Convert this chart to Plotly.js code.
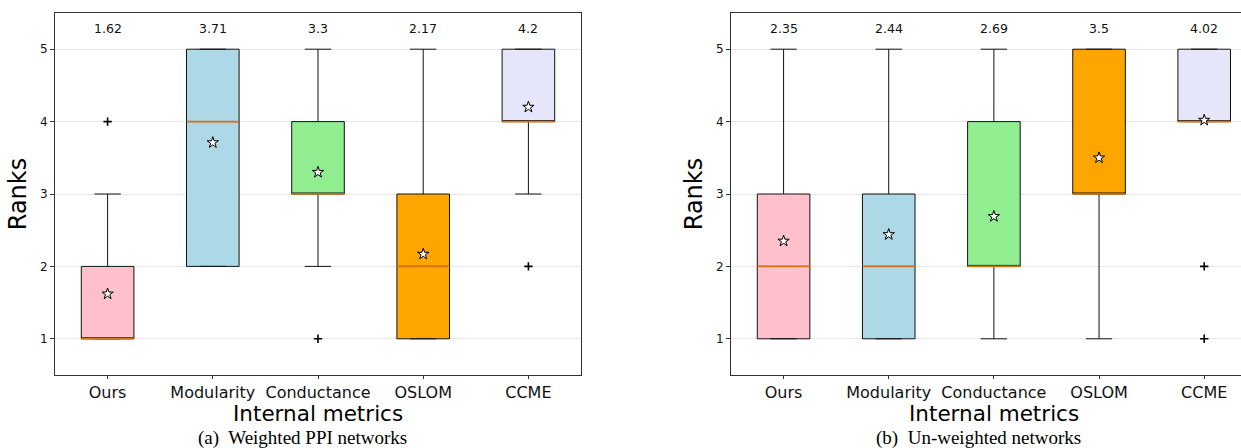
<!DOCTYPE html>
<html>
<head>
<meta charset="utf-8">
<script src="https://cdn.plot.ly/plotly-3.0.1.min.js"></script>
<style>html,body{margin:0;padding:0;background:#fff;}#chart{width:1241px;height:448px;}</style>
</head>
<body>
<div id="chart"></div>
<script>
// ---- Data ----
const categories = ['Ours', 'Modularity', 'Conductance', 'OSLOM', 'CCME'];

// (a) Weighted PPI networks
const wQ1     = [1, 2, 3, 1, 4];
const wMedian = [1, 4, 3, 2, 4];
const wQ3     = [2, 5, 4, 3, 5];
const wLower  = [1, 2, 2, 1, 3];
const wUpper  = [3, 5, 5, 5, 5];
const wMean   = [1.62, 3.71, 3.3, 2.17, 4.2];
const wOutliers = [[4], [], [1], [], [2]];

// (b) Un-weighted networks
const uQ1     = [1, 1, 2, 3, 4];
const uMedian = [2, 2, 2, 3, 4];
const uQ3     = [3, 3, 4, 5, 5];
const uLower  = [1, 1, 1, 1, 4];
const uUpper  = [5, 5, 5, 5, 5];
const uMean   = [2.35, 2.44, 2.69, 3.5, 4.02];
const uOutliers = [[], [], [], [], [2, 1]];

const yTicks = [1, 2, 3, 4, 5];
const xTitle = 'Internal metrics';
const yTitle = 'Ranks';
const captions = ['(a)  Weighted PPI networks', '(b)  Un-weighted networks'];

// ---- Styles ----
const fillColors = ['#ffc0cb', '#add8e6', '#90ee90', '#ffa500', '#e6e6fa'];
const medianColor = '#d8731d';
const boxW = 0.5;
const font = 'DejaVu Sans, sans-serif';
const serif = 'Liberation Serif, Times New Roman, serif';

const traces = [];
const annotations = [];

function addPanel(q1, med, q3, lo, hi, mean, outl, xa, ya, caption) {
  const xs = categories.map((c, i) => i);
  xs.forEach(i => {
    traces.push({
      type: 'box', x: [i], q1: [q1[i]], median: [med[i]], q3: [q3[i]],
      lowerfence: [lo[i]], upperfence: [hi[i]],
      width: boxW, whiskerwidth: 0.5, boxpoints: false,
      fillcolor: fillColors[i], line: {color: '#111', width: 1},
      xaxis: xa, yaxis: ya, hoverinfo: 'skip'
    });
    traces.push({
      type: 'scatter', mode: 'lines', x: [i - boxW / 2, i + boxW / 2], y: [med[i], med[i]],
      line: {color: medianColor, width: 1.6}, xaxis: xa, yaxis: ya, hoverinfo: 'skip'
    });
  });
  const ox = [], oy = [];
  outl.forEach((arr, i) => arr.forEach(v => { ox.push(i); oy.push(v); }));
  traces.push({
    type: 'scatter', mode: 'markers', x: ox, y: oy,
    marker: {symbol: 'cross-thin', size: 6, line: {color: '#000', width: 1.6}},
    xaxis: xa, yaxis: ya, hoverinfo: 'skip'
  });
  traces.push({
    type: 'scatter', mode: 'markers', x: xs, y: mean,
    marker: {symbol: 'star', size: 8.5, color: '#fff', line: {color: '#000', width: 1}},
    xaxis: xa, yaxis: ya, hoverinfo: 'skip'
  });
  xs.forEach(i => annotations.push({
    xref: xa, yref: ya, x: i, y: 5.29, text: String(mean[i]), showarrow: false,
    font: {family: font, size: 12.5, color: '#111'}
  }));
  // axis title (x) and panel caption, centred under the middle category
  annotations.push({
    xref: xa, yref: 'paper', x: 2, y: 1 - 413 / 448, yanchor: 'middle',
    text: xTitle, showarrow: false, font: {family: font, size: 21.5, color: '#000'}
  });
  annotations.push({
    xref: xa, yref: 'paper', x: 1.85, y: 1 - 437.5 / 448, yanchor: 'middle',
    text: caption, showarrow: false, font: {family: serif, size: 19, color: '#000'}
  });
}

addPanel(wQ1, wMedian, wQ3, wLower, wUpper, wMean, wOutliers, 'x', 'y', captions[0]);
addPanel(uQ1, uMedian, uQ3, uLower, uUpper, uMean, uOutliers, 'x2', 'y2', captions[1]);

function xAxis(domain, range, mirror) {
  return {
    domain: domain, range: range, tickvals: categories.map((c, i) => i), ticktext: categories,
    ticks: 'outside', ticklen: 3, tickcolor: '#333', showgrid: false, zeroline: false,
    showline: true, mirror: mirror, linecolor: '#333', linewidth: 1,
    tickfont: {family: font, size: 16, color: '#111'}
  };
}
function yAxis(domain, anchor, mirror) {
  return {
    domain: domain, anchor: anchor, range: [0.5, 5.5], tickvals: yTicks,
    ticks: 'outside', ticklen: 4, tickcolor: '#333', showgrid: true, gridcolor: '#e6e6e6',
    zeroline: false, showline: true, mirror: mirror, linecolor: '#333', linewidth: 1,
    tickfont: {family: font, size: 12, color: '#111'},
    title: {text: yTitle, font: {family: font, size: 24, color: '#000'}, standoff: 6}
  };
}

const yDom = [1 - 375 / 448, 1 - 13 / 448];
const layout = {
  width: 1241, height: 448, margin: {l: 0, r: 0, t: 0, b: 0},
  paper_bgcolor: '#fff', plot_bgcolor: '#fff', showlegend: false,
  xaxis: Object.assign(xAxis([55 / 1241, 581 / 1241], [-0.5, 4.5], true), {anchor: 'y'}),
  yaxis: yAxis(yDom, 'x', true),
  xaxis2: Object.assign(xAxis([731 / 1241, 1], [-0.5, 4.35], true), {anchor: 'y2'}),
  yaxis2: yAxis(yDom, 'x2', false),
  annotations: annotations
};

Plotly.newPlot('chart', traces, layout, {staticPlot: true, displayModeBar: false});
</script>
</body>
</html>
